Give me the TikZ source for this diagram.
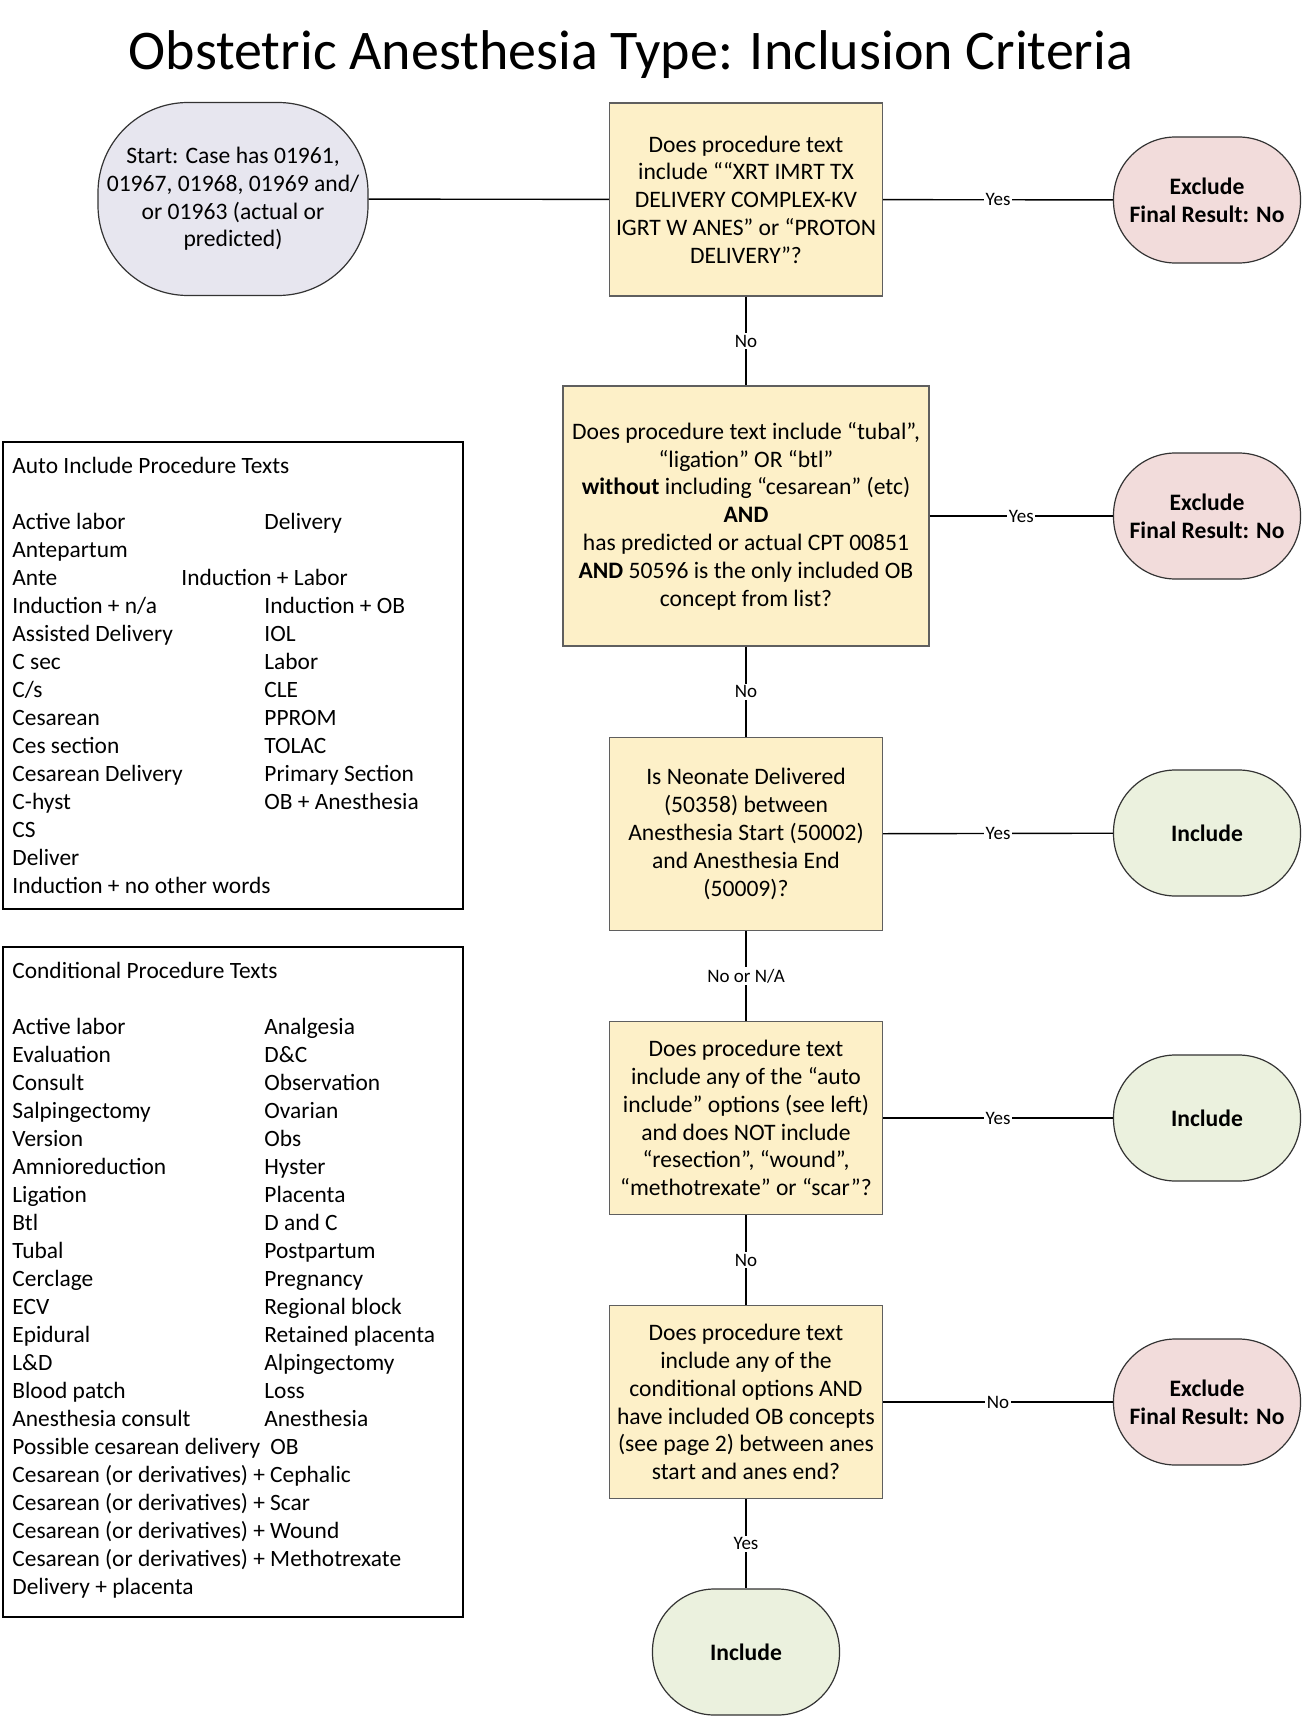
\documentclass[tikz,border=0pt]{standalone}
\usepackage{fontspec}
\setmainfont{Carlito}
\usepackage{tikz}
\definecolor{FlowStartColor}{RGB}{231,230,239}
\definecolor{FlowQuestionColor}{RGB}{253,240,200}
\definecolor{FlowExcludeColor}{RGB}{242,220,219}
\definecolor{FlowIncludeColor}{RGB}{235,241,222}
\definecolor{FlowBorderColor}{RGB}{95,95,95}

\begin{document}
\begin{tikzpicture}[x=0.5pt,y=-0.5pt,
 txt/.style={font=\fontsize{11.8}{13.9}\selectfont},
 question/.style n args={2}{txt,rectangle,draw=FlowBorderColor,line width=0.7pt,fill=FlowQuestionColor,align=center,minimum width=#1,minimum height=#2,inner sep=2pt},
 term/.style n args={4}{txt,draw=black!80,line width=0.6pt,fill=#1,minimum width=#2,minimum height=#3,rounded corners=#4,align=center},
 lbl/.style={font=\fontsize{9.5}{10}\selectfont,fill=white,inner sep=0.8pt},
 item/.style={font=\fontsize{11.7}{14}\selectfont,anchor=base west,inner sep=0pt},
 wire/.style={line width=0.7pt}]
\useasboundingbox (0,0) rectangle (1303,1717);
\node[font=\fontsize{28}{34}\selectfont] (title) at (631,55) {Obstetric Anesthesia Type: Inclusion Criteria};
% flow
\node[term={FlowStartColor}{135pt}{96.5pt}{45pt}] (s) at (233,199)
   {Start: Case has 01961,\\01967, 01968, 01969 and/\\or 01963 (actual or\\predicted)};
\node[question={136.5pt}{96.5pt}] (q1) at (746,199.5)
   {Does procedure text\\include ““XRT IMRT TX\\DELIVERY COMPLEX-KV\\IGRT W ANES” or “PROTON\\DELIVERY”?};
\node[question={183pt}{130pt}] (q2) at (746,516)
   {Does procedure text include “tubal”,\\“ligation” OR “btl”\\\textbf{without} including “cesarean” (etc)\\\textbf{AND}\\has predicted or actual CPT 00851\\\textbf{AND} 50596 is the only included OB\\concept from list?};
\node[question={136.5pt}{96.5pt}] (q3) at (746,834)
   {Is Neonate Delivered\\(50358) between\\Anesthesia Start (50002)\\and Anesthesia End\\(50009)?};
\node[question={136.5pt}{96.5pt}] (q4) at (746,1118)
   {Does procedure text\\include any of the “auto\\include” options (see left)\\and does NOT include\\“resection”, “wound”,\\“methotrexate” or “scar”?};
\node[question={136.5pt}{96.5pt}] (q5) at (746,1402)
   {Does procedure text\\include any of the\\conditional options AND\\have included OB concepts\\(see page 2) between anes\\start and anes end?};
\node[term={FlowExcludeColor}{93.5pt}{63pt}{31pt}] (r1) at (1207,200) {\textbf{Exclude}\\\textbf{Final Result: No}};
\node[term={FlowExcludeColor}{93.5pt}{63pt}{31pt}] (r2) at (1207,516) {\textbf{Exclude}\\\textbf{Final Result: No}};
\node[term={FlowIncludeColor}{93.5pt}{63pt}{31pt}] (r3) at (1207,833) {\textbf{Include}};
\node[term={FlowIncludeColor}{93.5pt}{63pt}{31pt}] (r4) at (1207,1118) {\textbf{Include}};
\node[term={FlowExcludeColor}{93.5pt}{63pt}{31pt}] (r5) at (1207,1402) {\textbf{Exclude}\\\textbf{Final Result: No}};
\node[term={FlowIncludeColor}{93.5pt}{63pt}{31pt}] (r6) at (746,1652) {\textbf{Include}};
\draw[wire] (s) -- (q1);
\draw[wire] (q1) -- node[lbl] (l1) {Yes} (r1);
\draw[wire] (q1) -- node[lbl] (l2) {No} (q2);
\draw[wire] (q2) -- node[lbl] (l3) {Yes} (r2);
\draw[wire] (q2) -- node[lbl] (l4) {No} (q3);
\draw[wire] (q3) -- node[lbl] (l5) {Yes} (r3);
\draw[wire] (q3) -- node[lbl] (l6) {No or N/A} (q4);
\draw[wire] (q4) -- node[lbl] (l7) {Yes} (r4);
\draw[wire] (q4) -- node[lbl] (l8) {No} (q5);
\draw[wire] (q5) -- node[lbl] (l9) {No} (r5);
\draw[wire] (q5) -- node[lbl] (l10) {Yes} (r6);
% auto include list
\draw[line width=0.7pt] (3,442) rectangle (463,909);
\node[item] (at) at (12,473) {Auto Include Procedure Texts};
\foreach \t [count=\i from 0] in {Active labor,Antepartum,Ante,Induction + n/a,Assisted Delivery,C sec,C/s,Cesarean,Ces section,Cesarean Delivery,C-hyst,CS,Deliver,Induction + no other words} {
   \node[item] (a\i) at (12,529+28*\i) {\t};
}
\node[item] (b0) at (264,529) {Delivery};
\node[item] (b2) at (181,585) {Induction + Labor};
\foreach \t [count=\i from 3] in {Induction + OB,IOL,Labor,CLE,PPROM,TOLAC,Primary Section,OB + Anesthesia} {
   \node[item] (b\i) at (264,529+28*\i) {\t};
}
% conditional list
\draw[line width=0.7pt] (3,947) rectangle (463,1617);
\node[item] (ct) at (12,978) {Conditional Procedure Texts};
\foreach \t [count=\i from 0] in {Active labor,Evaluation,Consult,Salpingectomy,Version,Amnioreduction,Ligation,Btl,Tubal,Cerclage,ECV,Epidural,L\&D,Blood patch,Anesthesia consult,Possible cesarean delivery,Cesarean (or derivatives) + Cephalic,Cesarean (or derivatives) + Scar,Cesarean (or derivatives) + Wound,Cesarean (or derivatives) + Methotrexate,Delivery + placenta} {
   \node[item] (c\i) at (12,1034+28*\i) {\t};
}
\foreach \t [count=\i from 0] in {Analgesia,D\&C,Observation,Ovarian,Obs,Hyster,Placenta,D and C,Postpartum,Pregnancy,Regional block,Retained placenta,Alpingectomy,Loss,Anesthesia} {
   \node[item] (d\i) at (264,1034+28*\i) {\t};
}
\node[item] (d15) at (270,1454) {OB};
\end{tikzpicture}
\end{document}
